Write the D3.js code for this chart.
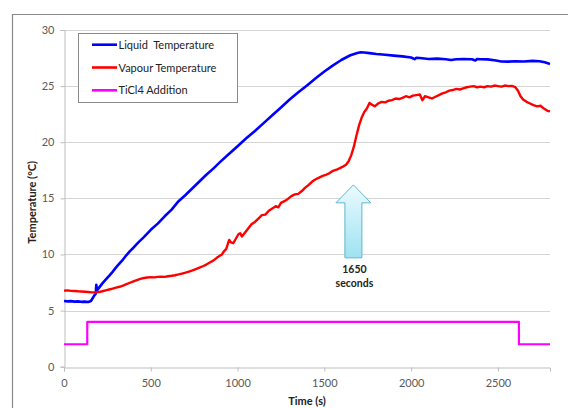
<!DOCTYPE html>
<html>
<head>
<meta charset="utf-8">
<script src="https://cdn.jsdelivr.net/npm/d3@7"></script>
<style>
  html, body { margin: 0; padding: 0; background: #fff; }
  svg { display: block; font-family: Lato, "Open Sans", sans-serif; }
</style>
</head>
<body>
<svg id="chart" width="568" height="408"></svg>
<script>
// Liquid temperature readings: [time (s), °C]
const liquidTemp = [
  [0,5.85],[20,5.82],[40,5.84],[60,5.8],[80,5.82],[100,5.78],[120,5.8],[140,5.76],[155,5.85],
  [165,6.1],[175,6.35],[183,6.5],[186,7.3],[190,6.8],[200,7.0],[220,7.4],[240,7.75],[260,8.1],
  [280,8.45],[300,8.85],[320,9.2],[340,9.55],[360,9.95],[380,10.3],[400,10.6],[430,11.1],
  [460,11.55],[500,12.2],[540,12.75],[580,13.4],[620,14.0],[660,14.75],[700,15.3],[740,15.9],
  [780,16.5],[820,17.1],[860,17.65],[900,18.25],[950,18.95],[1000,19.65],[1050,20.35],
  [1100,21.0],[1150,21.7],[1200,22.4],[1250,23.1],[1300,23.8],[1350,24.45],[1400,25.05],
  [1450,25.7],[1500,26.3],[1550,26.85],[1600,27.35],[1650,27.75],[1690,27.95],[1710,28.02],
  [1730,28.0],[1760,27.94],[1800,27.86],[1850,27.8],[1900,27.72],[1950,27.65],[2000,27.55],
  [2020,27.4],[2030,27.52],[2050,27.5],[2100,27.42],[2150,27.45],[2200,27.4],[2230,27.32],
  [2260,27.4],[2300,27.42],[2350,27.4],[2370,27.28],[2380,27.42],[2400,27.4],[2440,27.38],
  [2480,27.3],[2520,27.2],[2560,27.18],[2600,27.22],[2650,27.2],[2700,27.25],[2740,27.22],
  [2770,27.12],[2800,26.98]
];

// Vapour temperature readings: [time (s), °C]
const vapourTemp = [
  [0,6.78],[20,6.8],[40,6.76],[60,6.75],[80,6.72],[100,6.7],[120,6.68],[140,6.65],[160,6.62],
  [180,6.63],[200,6.65],[220,6.72],[240,6.8],[260,6.88],[280,6.95],[300,7.05],[320,7.12],
  [340,7.22],[360,7.35],[380,7.48],[400,7.6],[420,7.72],[440,7.82],[460,7.9],[480,7.95],
  [500,7.98],[520,7.96],[540,8.0],[560,8.02],[580,8.0],[600,8.06],[620,8.1],[640,8.15],
  [660,8.22],[680,8.3],[700,8.38],[720,8.48],[740,8.58],[760,8.7],[780,8.82],[800,8.95],
  [820,9.1],[840,9.28],[860,9.45],[880,9.7],[900,9.9],[910,10.0],[920,10.25],[935,10.5],
  [945,11.0],[952,11.3],[960,11.1],[975,11.0],[990,11.4],[1005,11.8],[1015,11.9],[1025,11.6],
  [1040,11.9],[1060,12.3],[1080,12.7],[1100,12.9],[1120,13.2],[1140,13.5],[1160,13.55],
  [1180,13.9],[1200,14.1],[1220,14.3],[1235,14.2],[1250,14.6],[1270,14.75],[1290,14.95],
  [1310,15.2],[1330,15.35],[1350,15.4],[1370,15.65],[1390,15.95],[1410,16.2],[1430,16.5],
  [1450,16.7],[1470,16.85],[1490,17.0],[1510,17.1],[1530,17.25],[1550,17.45],[1570,17.55],
  [1590,17.7],[1610,17.85],[1625,18.0],[1640,18.3],[1655,18.85],[1670,19.6],[1685,20.6],
  [1700,21.5],[1715,22.2],[1730,22.7],[1745,23.0],[1760,23.5],[1775,23.35],[1790,23.2],
  [1810,23.45],[1830,23.6],[1850,23.55],[1870,23.7],[1890,23.75],[1910,23.9],[1930,23.85],
  [1950,23.95],[1970,24.1],[1990,24.0],[2010,24.15],[2030,24.2],[2050,24.25],[2065,23.75],
  [2080,24.1],[2100,24.0],[2120,23.9],[2140,24.05],[2160,24.2],[2180,24.35],[2200,24.45],
  [2220,24.6],[2240,24.65],[2260,24.75],[2280,24.7],[2300,24.8],[2320,24.9],[2340,24.95],
  [2360,25.0],[2380,24.9],[2400,24.95],[2420,24.9],[2440,25.0],[2460,24.95],[2480,25.05],
  [2500,25.0],[2520,24.95],[2540,25.05],[2560,25.0],[2580,25.02],[2600,24.9],[2615,24.6],
  [2630,24.1],[2645,23.8],[2665,23.6],[2685,23.45],[2705,23.3],[2725,23.2],[2745,23.25],
  [2765,23.0],[2785,22.8],[2800,22.75]
];

// TiCl4 addition signal (step): [time (s), level]
const ticl4Addition = [
  [0,2],[134,2],[134,4],[2621,4],[2621,2],[2800,2]
];

const xTicks = [0, 500, 1000, 1500, 2000, 2500];
const yTicks = [0, 5, 10, 15, 20, 25, 30];
const legendLabels = ["Liquid  Temperature", "Vapour Temperature", "TiCl4 Addition"];
const seriesColors = ["#0000ff", "#ff0000", "#ff00ff"];
const annotationTime = 1650;
const annotationLines = ["1650", "seconds"];

const svg = d3.select("#chart");
const W = 568, H = 408;
const plot = { left: 64, right: 550, top: 30, bottom: 366.7 };

const x = d3.scaleLinear().domain([0, 2800]).range([plot.left, plot.right]);
const y = d3.scaleLinear().domain([0, 30]).range([plot.bottom, plot.top]);

// outer chart frame (top and left edges)
svg.append("path")
  .attr("d", `M12.5,${H} V14.5 H${W}`)
  .attr("fill", "none").attr("stroke", "#8a8a8a").attr("stroke-width", 1.2);

// horizontal gridlines
svg.append("g")
  .selectAll("line")
  .data(yTicks.filter(d => d > 0))
  .join("line")
  .attr("x1", plot.left).attr("x2", plot.right)
  .attr("y1", d => Math.round(y(d)) + 0.5).attr("y2", d => Math.round(y(d)) + 0.5)
  .attr("stroke", "#d4d4d4").attr("stroke-width", 1);

// y axis
const yAxis = svg.append("g")
  .attr("transform", `translate(${plot.left + 0.5},0)`)
  .call(d3.axisLeft(y).tickValues(yTicks).tickFormat(d3.format("d")).tickSize(4).tickPadding(6));
yAxis.select(".domain").attr("stroke", "#bdbdbd");
yAxis.selectAll(".tick line").attr("stroke", "#bdbdbd");
yAxis.selectAll(".tick text")
  .attr("fill", "#595959").attr("font-size", 11).attr("font-family", "Lato, sans-serif");

// x axis
const xAxis = svg.append("g")
  .attr("transform", `translate(0,${Math.round(plot.bottom) + 0.5})`)
  .call(d3.axisBottom(x).tickValues(xTicks).tickFormat(d3.format("d")).tickSize(4).tickPadding(8));
xAxis.select(".domain").attr("stroke", "#bdbdbd");
xAxis.selectAll(".tick line").attr("stroke", "#bdbdbd");
xAxis.selectAll(".tick text")
  .attr("fill", "#595959").attr("font-size", 11).attr("font-family", "Lato, sans-serif");

// axis titles
svg.append("text")
  .attr("x", (plot.left + plot.right) / 2).attr("y", 405)
  .attr("text-anchor", "middle").attr("font-weight", "bold")
  .attr("font-size", 11).attr("fill", "#222")
  .text("Time (s)");

svg.append("text")
  .attr("transform", `translate(36,${(plot.top + plot.bottom) / 2 + 4}) rotate(-90)`)
  .attr("text-anchor", "middle").attr("font-weight", "bold")
  .attr("font-size", 11).attr("fill", "#222")
  .text("Temperature (°C)");

// data lines
const line = d3.line().x(d => x(d[0])).y(d => y(d[1]));
const seriesData = [liquidTemp, vapourTemp, ticl4Addition];
const widths = [2.6, 2.4, 2.2];
seriesData.forEach((data, i) => {
  svg.append("path")
    .datum(data)
    .attr("d", line)
    .attr("fill", "none")
    .attr("stroke", seriesColors[i])
    .attr("stroke-width", widths[i])
    .attr("stroke-linejoin", "round");
});

// annotation arrow pointing at the vapour temperature jump
const defs = svg.append("defs");
const grad = defs.append("linearGradient")
  .attr("id", "arrowFill").attr("x1", 0).attr("y1", 0).attr("x2", 0).attr("y2", 1);
grad.append("stop").attr("offset", "0%").attr("stop-color", "#eafbfe");
grad.append("stop").attr("offset", "100%").attr("stop-color", "#9fe2f2");

const ax = x(annotationTime) + 3;
const tipY = y(16.2), headY = y(14.6), baseY = y(9.7);
const headHalf = 17.5, shaftHalf = 8.5;
svg.append("path")
  .attr("d", [
    `M${ax},${tipY}`,
    `L${ax + headHalf},${headY}`,
    `L${ax + shaftHalf},${headY}`,
    `L${ax + shaftHalf},${baseY}`,
    `L${ax - shaftHalf},${baseY}`,
    `L${ax - shaftHalf},${headY}`,
    `L${ax - headHalf},${headY}`,
    "Z"
  ].join(""))
  .attr("fill", "url(#arrowFill)")
  .attr("stroke", "#62b6cb").attr("stroke-width", 1);

svg.append("g")
  .selectAll("text")
  .data(annotationLines)
  .join("text")
  .attr("x", ax + 1).attr("y", (d, i) => baseY + 15 + i * 14.5)
  .attr("text-anchor", "middle").attr("font-weight", "bold")
  .attr("font-size", 10.5).attr("fill", "#222")
  .text(d => d);

// legend
const legend = svg.append("g");
legend.append("rect")
  .attr("x", 78.5).attr("y", 33.5).attr("width", 159).attr("height", 69)
  .attr("fill", "#fff").attr("stroke", "#8a8a8a").attr("stroke-width", 1);
const rows = legend.selectAll("g.row")
  .data(legendLabels)
  .join("g")
  .attr("class", "row")
  .attr("transform", (d, i) => `translate(0,${44.7 + i * 22.8})`);
rows.append("line")
  .attr("x1", 92).attr("x2", 117).attr("y1", 0).attr("y2", 0)
  .attr("stroke", (d, i) => seriesColors[i]).attr("stroke-width", 2.6);
rows.append("text")
  .attr("x", 118.5).attr("y", 4)
  .attr("font-size", 11).attr("fill", "#222")
  .style("white-space", "pre")
  .text(d => d);
</script>
</body>
</html>
